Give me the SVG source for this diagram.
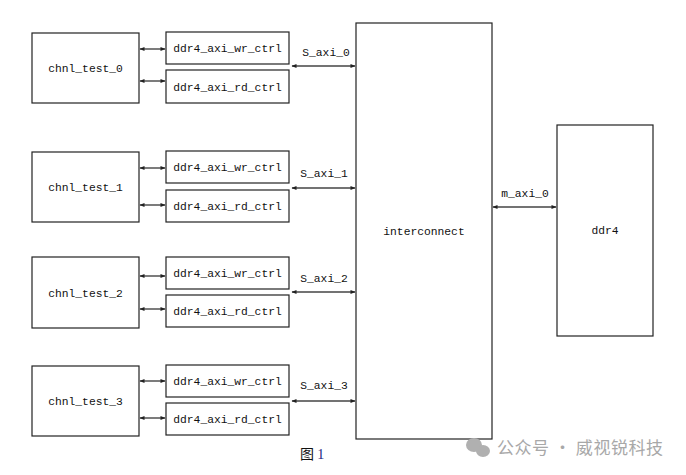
<svg xmlns="http://www.w3.org/2000/svg" width="686" height="475" viewBox="0 0 686 475">
<style>
.box{fill:#fff;stroke:#222;stroke-width:1.2}
.t{font-family:"Liberation Mono",monospace;font-size:11.3px;fill:#111}
.c{stroke:#444;stroke-width:1.4;fill:none;marker-start:url(#a);marker-end:url(#a)}
</style>
<defs>
<marker id="a" viewBox="0 0 10 10" refX="9" refY="5" markerWidth="6" markerHeight="5" markerUnits="userSpaceOnUse" orient="auto-start-reverse">
<path d="M0,1 L10,5 L0,9 z" fill="#222"/>
</marker>
</defs>
<rect width="686" height="475" fill="#fff"/>
<g id="chnl_test_0"><rect class="box" x="32" y="33" width="107" height="70"/><text class="t" x="85.5" y="72" text-anchor="middle">chnl_test_0</text></g>
<g id="wr0"><rect class="box" x="166" y="32" width="123" height="32"/><text class="t" x="227.5" y="52" text-anchor="middle">ddr4_axi_wr_ctrl</text></g>
<g id="rd0"><rect class="box" x="166" y="70" width="123" height="33"/><text class="t" x="227.5" y="91" text-anchor="middle">ddr4_axi_rd_ctrl</text></g>
<g id="chnl_test_1"><rect class="box" x="32" y="152" width="107" height="70"/><text class="t" x="85.5" y="191" text-anchor="middle">chnl_test_1</text></g>
<g id="wr1"><rect class="box" x="166" y="151" width="123" height="32"/><text class="t" x="227.5" y="171" text-anchor="middle">ddr4_axi_wr_ctrl</text></g>
<g id="rd1"><rect class="box" x="166" y="190" width="123" height="32"/><text class="t" x="227.5" y="210" text-anchor="middle">ddr4_axi_rd_ctrl</text></g>
<g id="chnl_test_2"><rect class="box" x="32" y="257" width="107" height="71"/><text class="t" x="85.5" y="297" text-anchor="middle">chnl_test_2</text></g>
<g id="wr2"><rect class="box" x="166" y="257" width="123" height="32"/><text class="t" x="227.5" y="277" text-anchor="middle">ddr4_axi_wr_ctrl</text></g>
<g id="rd2"><rect class="box" x="166" y="295" width="123" height="32"/><text class="t" x="227.5" y="315" text-anchor="middle">ddr4_axi_rd_ctrl</text></g>
<g id="chnl_test_3"><rect class="box" x="32" y="366" width="107" height="70"/><text class="t" x="85.5" y="405" text-anchor="middle">chnl_test_3</text></g>
<g id="wr3"><rect class="box" x="166" y="365" width="123" height="32"/><text class="t" x="227.5" y="385" text-anchor="middle">ddr4_axi_wr_ctrl</text></g>
<g id="rd3"><rect class="box" x="166" y="403" width="123" height="32"/><text class="t" x="227.5" y="423" text-anchor="middle">ddr4_axi_rd_ctrl</text></g>
<g id="interconnect"><rect class="box" x="356" y="23" width="136" height="416"/><text class="t" x="424" y="235" text-anchor="middle">interconnect</text></g>
<g id="ddr4"><rect class="box" x="557" y="125" width="96" height="211"/><text class="t" x="605" y="234" text-anchor="middle">ddr4</text></g>
<g id="connectors">
<line class="c" x1="140" y1="49" x2="165" y2="49"/>
<line class="c" x1="140" y1="81" x2="165" y2="81"/>
<line class="c" x1="140" y1="168" x2="165" y2="168"/>
<line class="c" x1="140" y1="205" x2="165" y2="205"/>
<line class="c" x1="140" y1="276" x2="165" y2="276"/>
<line class="c" x1="140" y1="309" x2="165" y2="309"/>
<line class="c" x1="140" y1="381" x2="165" y2="381"/>
<line class="c" x1="140" y1="418" x2="165" y2="418"/>
<line class="c" x1="292" y1="66" x2="355" y2="66"/>
<line class="c" x1="292" y1="188" x2="355" y2="188"/>
<line class="c" x1="292" y1="292" x2="355" y2="292"/>
<line class="c" x1="292" y1="401" x2="355" y2="401"/>
<line class="c" x1="493" y1="207" x2="556" y2="207"/>
<text class="t" x="326" y="56" text-anchor="middle">S_axi_0</text>
<text class="t" x="324" y="177" text-anchor="middle">S_axi_1</text>
<text class="t" x="324" y="282" text-anchor="middle">S_axi_2</text>
<text class="t" x="324" y="389" text-anchor="middle">S_axi_3</text>
<text class="t" x="525" y="197" text-anchor="middle">m_axi_0</text>
</g>
<text x="300" y="459" font-family="'Noto Sans CJK SC',sans-serif" font-size="14" fill="#111">图 <tspan fill="#1a237e" font-family="'Liberation Serif',serif">1</tspan></text>
<g id="watermark" fill="#b0b0b0">
<ellipse cx="474" cy="445" rx="8" ry="7"/>
<ellipse cx="483" cy="451" rx="7" ry="6"/>
<text x="497" y="454" font-family="'Noto Sans CJK SC',sans-serif" font-size="17" fill="#a8a8a8" textLength="166" lengthAdjust="spacing">公众号 · 威视锐科技</text>
</g>
</svg>
